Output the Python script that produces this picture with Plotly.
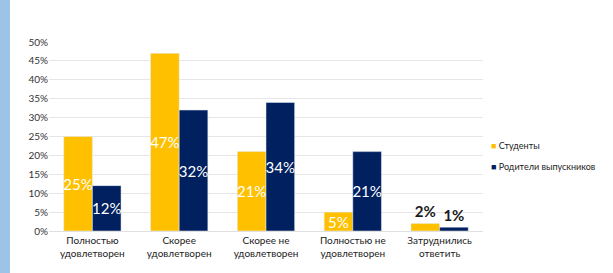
import plotly.graph_objects as go

categories = ["Полностью<br>удовлетворен", "Скорее<br>удовлетворен", "Скорее не<br>удовлетворен",
              "Полностью не<br>удовлетворен", "Затруднились<br>ответить"]
students = [25, 47, 21, 5, 2]
parents = [12, 32, 34, 21, 1]
series_names = ["Студенты", "Родители выпускников"]
tick_vals = [0, 5, 10, 15, 20, 25, 30, 35, 40, 45, 50]
tick_text = [f"{v}%" for v in tick_vals]

colors = ["#FFC000", "#002060"]

def pos(vals):
    return ["inside" if v >= 5 else "outside" for v in vals]

def tcol(vals):
    return ["#FFFFFF" if v >= 5 else "#1A1A1A" for v in vals]

def ttext(vals):
    return [f"{v}%" if v >= 5 else f"<b>{v}%</b>" for v in vals]

fig = go.Figure()
for name, vals, c in zip(series_names, [students, parents], colors):
    fig.add_trace(go.Bar(
        x=categories, y=vals, name=name, marker_color=c,
        text=ttext(vals), texttemplate="%{text}", textposition=pos(vals), textangle=0,
        insidetextanchor="middle", constraintext="none",
        textfont=dict(family="Lato", size=15, color=tcol(vals)),
        cliponaxis=False, showlegend=False,
    ))

annotations = []
for i, (name, c) in enumerate(zip(series_names, colors)):
    annotations.append(dict(
        xref="paper", yref="paper", x=(489 - 49) / 434, y=(231 - 145 - 21 * i) / 189,
        xanchor="left", yanchor="middle", showarrow=False,
        text=f"<span style='color:{c}'>■</span> {name}",
        font=dict(family="Lato", size=9, color="#222222"),
    ))

fig.update_layout(
    width=613, height=273,
    margin=dict(l=49, r=130, t=42, b=42, autoexpand=False),
    paper_bgcolor="white", plot_bgcolor="white",
    barmode="group", bargap=0.34, bargroupgap=0.0,
    font=dict(family="Lato", size=10, color="#333333"),
    showlegend=False,
    annotations=annotations,
    shapes=[dict(type="rect", xref="paper", yref="paper", x0=-49/434, x1=-39/434,
                 y0=-42/189, y1=1 + 42/189, fillcolor="#9DC3E6", line_width=0, layer="below")],
)
fig.update_yaxes(range=[0, 50], tickvals=tick_vals, ticktext=tick_text, automargin=False,
                 showgrid=True, gridcolor="#E6E6E6", zeroline=False,
                 tickfont=dict(size=10, color="#333333"), ticks="", ticklen=0)
fig.update_xaxes(showline=True, linecolor="#E0E0E0", automargin=False,
                 tickfont=dict(size=10, color="#222222"))

fig.write_html("out.html", config={"displayModeBar": False},
               post_script="document.body.style.margin='0';document.body.style.overflow='hidden';")
